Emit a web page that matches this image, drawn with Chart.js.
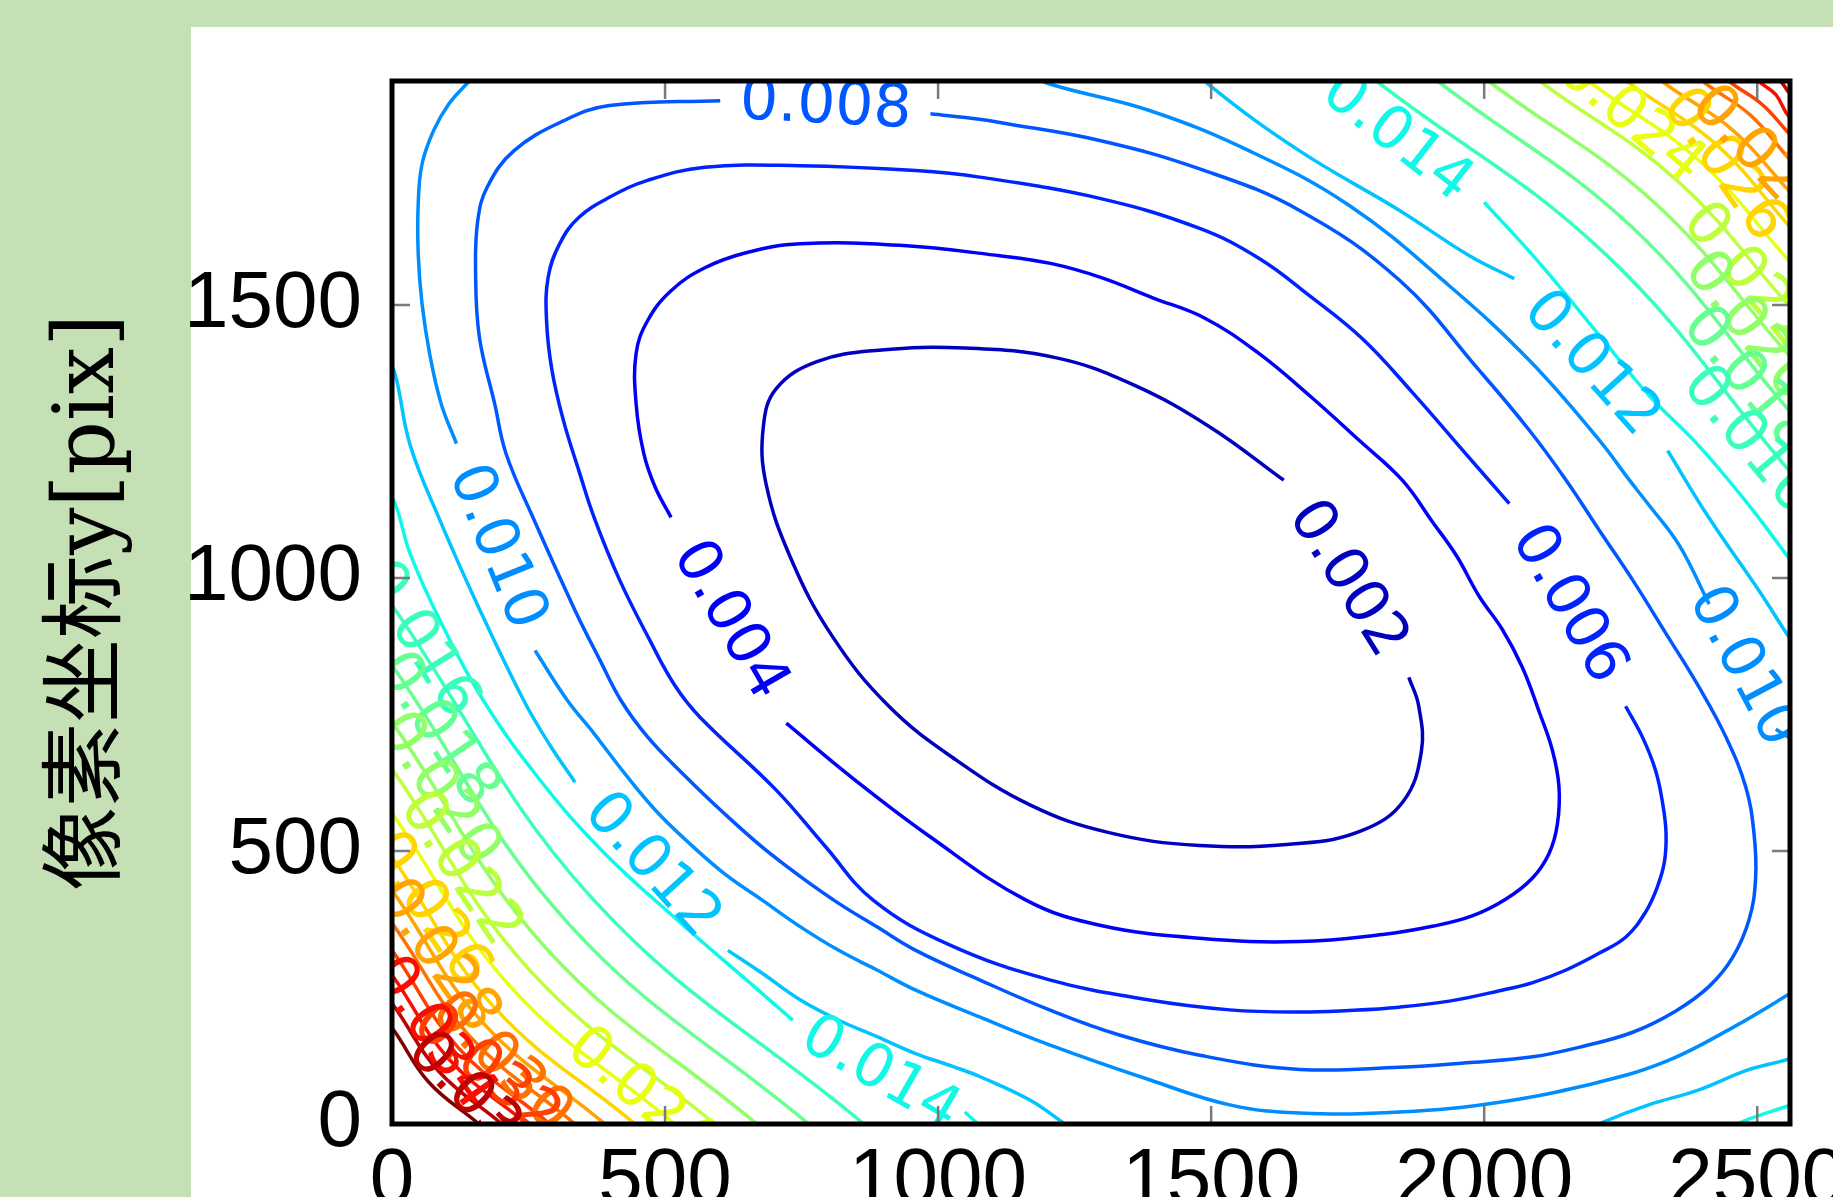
<!DOCTYPE html>
<html>
<head>
<meta charset="utf-8">
<title>像素坐标 contour</title>
<script src="https://cdn.jsdelivr.net/npm/chart.js"></script>
<style>
  html, body { margin: 0; padding: 0; background: #c5e0b4; overflow: hidden; }
</style>
</head>
<body>
<canvas id="myChart" width="1833" height="1197"></canvas>
<script>
// contour levels and the top of the colour range (jet)
var levels = [0.002, 0.004, 0.006, 0.008, 0.010, 0.012, 0.014, 0.016, 0.018, 0.020,
              0.022, 0.024, 0.026, 0.028, 0.030, 0.032, 0.034, 0.036, 0.038];
var colorMax = 0.038;

// axis ticks
var xTicks = [0, 500, 1000, 1500, 2000, 2500];
var yTicks = [0, 500, 1000, 1500];

// contour lines, in image pixels [x, y]; one list of segments per level
var c002 = [
  [[1633,1179],[1497,1277],[1357,1354],[1217,1403],[1049,1421],[891,1417],[778,1396],[704,1347],[680,1277],[685,1172],[732,1032],[807,892],[909,766],[1031,668],[1171,583],[1311,534],[1479,510],[1665,514],[1778,538],[1852,591],[1885,682],[1880,766],[1862,818]]
];
var c004 = [
  [[722,734],[844,633],[984,527],[1161,410],[1296,364],[1479,340],[1662,334],[1814,347],[1905,362],[1978,381],[2040,412],[2088,450],[2119,496],[2134,549],[2137,617],[2125,684],[2101,754],[2070,836],[2033,906],[1991,966],[1949,1041],[1905,1103],[1850,1179],[1771,1252],[1680,1334],[1585,1413],[1486,1477],[1393,1513],[1299,1550],[1206,1576],[1113,1590],[930,1609],[748,1612],[650,1596],[573,1568],[511,1526],[468,1471],[447,1411],[447,1319],[461,1228],[482,1166],[511,1111]]
];
var c006 = [
  [[2259,765],[2290,708],[2314,647],[2327,586],[2333,533],[2330,480],[2317,434],[2296,389],[2260,343],[2211,313],[2150,282],[2089,259],[2028,244],[1936,225],[1845,214],[1753,208],[1662,205],[1534,209],[1387,227],[1204,264],[1021,328],[881,410],[792,510],[704,611],[564,745],[518,803],[472,886],[417,996],[370,1111],[342,1197],[314,1288],[293,1380],[283,1471],[286,1551],[307,1612],[342,1660],[398,1697],[468,1728],[573,1752],[747,1755],[959,1746],[1076,1734],[1296,1695],[1479,1640],[1588,1585],[1680,1517],[1777,1438],[1870,1338],[1964,1230],[2046,1136]]
];
var c008 = [
  [[986,1850],[1076,1840],[1113,1834],[1296,1801],[1479,1749],[1662,1673],[1845,1545],[1991,1380],[2083,1270],[2150,1179],[2211,1087],[2272,996],[2333,898],[2394,799],[2443,708],[2479,617],[2494,533],[2497,450],[2485,374],[2455,305],[2412,252],[2351,207],[2272,168],[2180,142],[2089,123],[1967,112],[1845,104],[1662,100],[1479,126],[1332,163],[1204,209],[1076,264],[959,318],[888,361],[818,404],[748,453],[678,507],[608,569],[538,636],[468,709],[419,776],[381,849],[335,941],[258,1111],[209,1227],[188,1319],[160,1441],[153,1563],[157,1654],[174,1715],[223,1782],[314,1837],[398,1865],[601,1874]]
];
var c010 = [
  [[161,1929],[136,1904],[104,1868],[76,1819],[55,1758],[48,1685],[48,1593],[55,1502],[69,1410],[90,1319],[118,1246]],
  [[262,867],[321,776],[370,715],[426,642],[482,575],[538,520],[608,459],[678,410],[748,361],[818,318],[888,282],[959,245],[1076,196],[1204,145],[1387,81],[1534,35],[1662,20],[1845,22],[2028,40],[2211,77],[2334,115],[2454,176],[2557,237],[2577,251]],
  [[1149,1929],[1206,1904],[1387,1856],[1570,1782],[1753,1682],[1936,1535],[2083,1398],[2211,1252],[2266,1179],[2302,1133],[2357,1060],[2412,952]],
  [[2534,723],[2570,700]]
];
var c012 = [
  [[-13,1407],[5,1376],[33,1244],[88,1105],[161,941],[241,776],[289,694],[335,626]],
  [[615,318],[678,276],[748,227],[818,190],[888,160],[959,129],[1028,105],[1076,87],[1168,44],[1232,0],[1259,-20]],
  [[2192,-11],[2219,4],[2301,35],[2392,62],[2483,99],[2551,117],[2575,126]],
  [[1479,1929],[1495,1904],[1662,1782],[1845,1673],[1973,1590],[2055,1548]],
  [[2336,1233],[2411,1111],[2503,977],[2556,895],[2576,867]]
];
var c014 = [
  [[-13,1160],[5,1138],[33,1045],[88,922],[167,776],[271,630],[384,501],[523,373],[664,251],[734,190]],
  [[1049,22],[1085,-11]],
  [[2449,-11],[2472,4],[2556,33],[2576,40]],
  [[2000,1688],[2101,1577],[2211,1444],[2302,1334],[2394,1241],[2485,1133],[2556,1039],[2576,1014]]
];
var c016 = [
  [[-37,990],[0,950],[365,415],[864,0],[900,-33]],
  [[1764,1947],[1804,1909],[2222,1593],[2558,1197],[2599,1153]]
];
var c018 = [
  [[-37,880],[0,840],[323,367],[763,0],[800,-33]],
  [[1876,1947],[1916,1909],[2271,1642],[2558,1307],[2599,1263]]
];
var c020 = [
  [[-37,776],[0,736],[283,321],[668,0],[705,-33]],
  [[1969,1947],[2009,1909],[2312,1687],[2558,1408],[2599,1363]]
];
var c022 = [
  [[-37,690],[0,650],[250,284],[591,0],[628,-33]],
  [[2062,1947],[2103,1909],[2353,1728],[2558,1499],[2599,1455]]
];
var c024 = [
  [[-37,609],[0,569],[219,249],[518,0],[554,-33]],
  [[2152,1947],[2192,1909],[2394,1764],[2558,1581],[2599,1537]]
];
var c026 = [
  [[-37,529],[0,489],[188,213],[445,0],[481,-33]],
  [[2222,1947],[2262,1909],[2426,1793],[2558,1645],[2599,1601]]
];
var c028 = [
  [[-37,468],[0,428],[165,187],[390,0],[426,-33]],
  [[2286,1947],[2326,1909],[2454,1821],[2558,1709],[2599,1665]]
];
var c030 = [
  [[-37,408],[0,368],[142,161],[335,0],[371,-33]],
  [[2361,1947],[2401,1909],[2488,1847],[2558,1768],[2599,1724]]
];
var c032 = [
  [[-37,359],[0,318],[122,139],[289,0],[326,-33]],
  [[2408,1947],[2449,1909],[2509,1867],[2558,1814],[2599,1770]]
];
var c034 = [
  [[-37,313],[0,273],[104,119],[247,0],[284,-33]],
  [[2463,1947],[2503,1909],[2534,1885],[2558,1845],[2599,1812]]
];
var c036 = [
  [[-37,262],[0,221],[85,97],[201,0],[238,-33]],
  [[2503,1947],[2543,1909],[2551,1899],[2558,1889],[2599,1856]]
];
var c038 = [
  [[-37,216],[0,176],[67,77],[159,0],[196,-33]]
];
var contourLines = [c002, c004, c006, c008, c010, c012, c014, c016, c018, c020,
                    c022, c024, c026, c028, c030, c032, c034, c036, c038];

// inline contour labels
var labelText  = ['0.002','0.004','0.006','0.008','0.010','0.010','0.012','0.012','0.014','0.014',
                  '0.016','0.018','0.020','0.022','0.024','0.026','0.028','0.030','0.032','0.034','0.036',
                  '0.024','0.026','0.022','0.020','0.018','0.016','0.028'];
var labelX     = [1748, 617, 2153, 794, 190, 2473, 475, 2195, 1839, 893,
                  48, 81, 84, 124, 454, 66, 82, 199, 172, 73, 155,
                  2267, 2438, 2483, 2483, 2483, 2483, 2503];
var labelY     = [997, 922, 951, 1862, 1056, 837, 472, 1391, 1806, 90,
                  886, 721, 611, 467, 53, 392, 307, 112, 97, 165, 38,
                  1843, 1755, 1550, 1459, 1360, 1251, 1768];
var labelAngle = [58, 60, 60, 3, 68, 62, 48, 48, 38, 30,
                  58, 56, 56, 56, 40, 56, 55, 45, 40, 55, 45,
                  40, 55, 50, 52, 50, 50, 47];

// matplotlib "jet"
var jetR = [[0,0],[0.35,0],[0.66,1],[0.89,1],[1,0.5]];
var jetG = [[0,0],[0.125,0],[0.375,1],[0.64,1],[0.91,0],[1,0]];
var jetB = [[0,0.5],[0.11,1],[0.34,1],[0.65,0],[1,0]];
function jetPart(table, f) {
    for (var i = 1; i < table.length; i++) {
        if (f <= table[i][0]) {
            var a = table[i - 1], b = table[i];
            return a[1] + (b[1] - a[1]) * (f - a[0]) / (b[0] - a[0]);
        }
    }
    return table[table.length - 1][1];
}
function levelColor(level) {
    var f = Math.max(0, Math.min(1, level / colorMax));
    return 'rgb(' + Math.round(255 * jetPart(jetR, f)) + ',' +
                    Math.round(255 * jetPart(jetG, f)) + ',' +
                    Math.round(255 * jetPart(jetB, f)) + ')';
}

var datasets = [];
levels.forEach(function(level, i) {
    contourLines[i].forEach(function(segment) {
        datasets.push({
            label: level.toFixed(3),
            data: segment.map(function(p) { return {x: p[0], y: p[1]}; }),
            showLine: true,
            borderColor: levelColor(level),
            borderWidth: 3.5,
            pointRadius: 0,
            tension: 0.4,
            fill: false
        });
    });
});

var pageBackground = {
    id: 'pageBackground',
    beforeDraw: function(chart) {
        var ctx = chart.ctx;
        ctx.save();
        ctx.fillStyle = '#c5e0b4';
        ctx.fillRect(0, 0, chart.width, chart.height);
        ctx.fillStyle = '#ffffff';
        ctx.fillRect(191, 27, chart.width - 191, chart.height - 27);
        ctx.restore();
    }
};

var contourLabels = {
    id: 'contourLabels',
    afterDatasetsDraw: function(chart) {
        var ctx = chart.ctx, a = chart.chartArea;
        var xs = chart.scales.x, ys = chart.scales.y;
        ctx.save();
        ctx.beginPath();
        ctx.rect(a.left, a.top, a.right - a.left, a.bottom - a.top);
        ctx.clip();
        ctx.font = "60px 'DejaVu Sans', sans-serif";
        ctx.textAlign = 'center';
        ctx.textBaseline = 'middle';
        for (var i = 0; i < labelText.length; i++) {
            ctx.save();
            ctx.translate(xs.getPixelForValue(labelX[i]), ys.getPixelForValue(labelY[i]));
            ctx.rotate(labelAngle[i] * Math.PI / 180);
            ctx.fillStyle = levelColor(parseFloat(labelText[i]));
            ctx.fillText(labelText[i], 0, 0);
            ctx.restore();
        }
        ctx.restore();
    }
};

// inward ticks on all four sides and the black frame
var frameAndTicks = {
    id: 'frameAndTicks',
    afterDraw: function(chart) {
        var ctx = chart.ctx, a = chart.chartArea;
        var xs = chart.scales.x, ys = chart.scales.y;
        ctx.save();
        ctx.strokeStyle = '#7a7a7a';
        ctx.lineWidth = 2.5;
        ctx.beginPath();
        xs.ticks.forEach(function(t) {
            var px = xs.getPixelForValue(t.value);
            ctx.moveTo(px, a.bottom); ctx.lineTo(px, a.bottom - 18);
            ctx.moveTo(px, a.top); ctx.lineTo(px, a.top + 18);
        });
        ys.ticks.forEach(function(t) {
            var py = ys.getPixelForValue(t.value);
            ctx.moveTo(a.left, py); ctx.lineTo(a.left + 18, py);
            ctx.moveTo(a.right, py); ctx.lineTo(a.right - 18, py);
        });
        ctx.stroke();
        ctx.strokeStyle = '#000000';
        ctx.lineWidth = 5;
        ctx.strokeRect(a.left, a.top, a.right - a.left, a.bottom - a.top);
        ctx.restore();
    }
};

var tickFont = {family: "'Liberation Sans', Arial, sans-serif", size: 80};
function plainNumber(v) { return String(v); }

var ctx = document.getElementById('myChart').getContext('2d');
var chart = new Chart(ctx, {
    type: 'scatter',
    data: { datasets: datasets },
    options: {
        responsive: false,
        animation: false,
        layout: { padding: { left: 0, top: 81, right: 43, bottom: 0 }, autoPadding: false },
        plugins: { legend: { display: false }, tooltip: { enabled: false } },
        scales: {
            x: {
                type: 'linear', min: 0, max: 2560,
                grid: { display: false }, border: { display: false },
                ticks: { autoSkip: false, maxRotation: 0, padding: 2, color: '#000', font: tickFont,
                         callback: plainNumber },
                afterBuildTicks: function(scale) {
                    scale.ticks = xTicks.map(function(v) { return {value: v}; });
                },
                afterFit: function(scale) {
                    scale.height = 73;
                    scale.paddingLeft = 0; scale.paddingRight = 0;
                }
            },
            y: {
                type: 'linear', min: 0, max: 1910,
                grid: { display: false }, border: { display: false },
                ticks: { padding: 22, color: '#000', font: tickFont, callback: plainNumber },
                afterBuildTicks: function(scale) {
                    scale.ticks = yTicks.map(function(v) { return {value: v}; });
                },
                title: {
                    display: true,
                    text: '像素坐标y[pix]',
                    color: '#000',
                    font: { family: "'DejaVu Serif', 'Noto Sans CJK SC', serif", size: 84 },
                    padding: { top: 41, bottom: 0 }
                },
                afterFit: function(scale) {
                    scale.width = 392;
                    scale.paddingTop = 0; scale.paddingBottom = 0;
                }
            }
        }
    },
    plugins: [pageBackground, contourLabels, frameAndTicks]
});
</script>
</body>
</html>
